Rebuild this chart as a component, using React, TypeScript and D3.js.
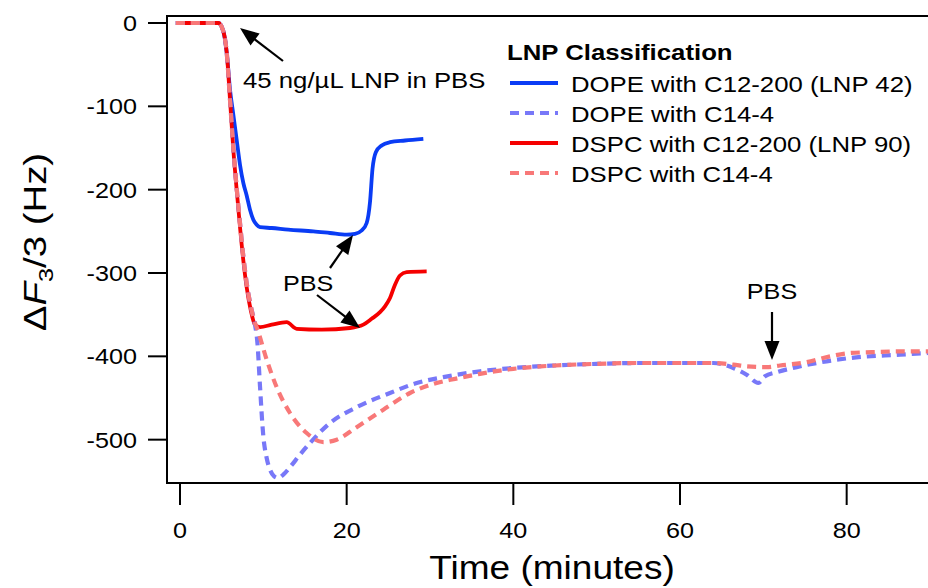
import React from "react";
import * as d3 from "d3";

// ---------- data ----------
const blueSolidT = [-0.5, 4.6, 5.2, 5.6, 6.0, 6.4, 6.8, 7.2, 7.6, 8.0, 8.4, 8.8, 9.2, 9.6, 11, 13, 16, 18, 20, 21, 21.8, 22.4, 22.8, 23.1, 23.5, 24.2, 25.2, 27, 29.2];
const blueSolidV = [0, 0, -10, -35, -80, -110, -140, -170, -192, -207, -224, -236, -242, -245, -246, -248, -250, -252, -254, -253, -249, -240, -215, -175, -155, -147, -143, -141, -139];

const redSolidT = [-0.5, 4.6, 5.2, 5.6, 6.0, 6.4, 6.8, 7.2, 7.6, 8.0, 8.5, 9.0, 9.6, 11, 12.8, 14, 17, 20.4, 22, 23, 24, 24.6, 25.2, 25.8, 26.4, 27.2, 29.6];
const redSolidV = [0, 0, -10, -35, -92, -152, -200, -245, -285, -317, -345, -362, -365, -362, -359, -367, -368, -366, -362, -355, -347, -340, -330, -314, -303, -299, -298];

const blueDashT = [-0.5, 4.6, 5.2, 5.6, 6.0, 6.4, 6.8, 7.2, 7.6, 8.0, 8.5, 9.0, 9.3, 9.6, 10, 10.4, 10.8, 11.3, 11.8, 12.4, 13.2, 14.4, 15.6, 18, 21.2, 25.2, 28.4, 31.6, 36, 40, 45, 50, 55, 60, 64, 66.4, 68, 69.4, 70.2, 71.6, 74, 76.4, 80.4, 86.4, 89.8];
const blueDashV = [0, 0, -10, -35, -92, -150, -198, -240, -280, -312, -340, -362, -385, -436, -496, -522, -536, -544, -546, -542, -533, -518, -504, -480, -461, -444, -432, -425, -418, -414, -411, -409, -408, -408, -408, -414, -422, -432, -424, -419, -413, -408, -402, -398, -396];

const pinkDashT = [-0.5, 4.6, 5.2, 5.6, 6.0, 6.4, 6.8, 7.2, 7.6, 8.0, 8.5, 9.0, 9.2, 10.4, 11.6, 13.2, 15.2, 17.2, 18.8, 21.2, 24.4, 27.6, 30.8, 33, 36, 40, 45, 50, 55, 60, 64, 66.4, 68, 70.4, 72, 75.2, 78, 80.4, 83, 86.4, 89.8];
const pinkDashV = [0, 0, -10, -35, -92, -150, -198, -240, -280, -312, -340, -360, -365, -404, -437, -468, -492, -503, -500, -485, -464, -444, -432, -427, -421, -415, -411, -409, -408, -408, -408, -410, -412, -413, -411, -407, -400, -396, -395, -394, -394];

const xTicks = [0, 20, 40, 60, 80];
const yTicks = [0, -100, -200, -300, -400, -500];

const legendTitle = "LNP Classification";
const seriesNames = [
  "DOPE with C12-200 (LNP 42)",
  "DOPE with C14-4",
  "DSPC with C12-200 (LNP 90)",
  "DSPC with C14-4",
];
const seriesColors = ["#0a3cf5", "#7878f8", "#f50000", "#f87878"];
const seriesDashed = [false, true, false, true];

// annotations in data coordinates [t, v]
const injectText = "45 ng/µL LNP in PBS";
const injectTextPos = [7.56, -78];
const injectArrow = [[12.36, -45.6], [7.2, -6]];
const pbsLeftPos = [12.36, -321.6];
const pbsArrowA = [[18.0, -294], [20.76, -254.4]];
const pbsArrowB = [[16.44, -326.4], [21.6, -366]];
const pbsRightPos = [71.04, -331.2];
const pbsArrowC = [[71.04, -346.8], [71.04, -404.4]];

// ---------- layout ----------
const W = 928;
const H = 588;
const left = 167;
const top = 16;
const bottom = 483;
const FONT = "'Liberation Sans', Arial, Helvetica, sans-serif";
const SX = 1.12;

const x = d3.scaleLinear().domain([-1.56, 90]).range([left, 930]);
const y = d3.scaleLinear().domain([-552, 8.4]).range([bottom, top]);

function ST({ x: tx, y: ty, size, anchor = "start", weight = "normal", sx = SX, children }: any) {
  return (
    <text
      transform={`translate(${tx},${ty}) scale(${sx},1)`}
      fontSize={size}
      textAnchor={anchor}
      fontWeight={weight}
      fontFamily={FONT}
      fill="#000"
    >
      {children}
    </text>
  );
}

function Arrow({ pts }: any) {
  const [[t0, v0], [t1, v1]] = pts;
  const x0 = x(t0), y0 = y(v0), x1 = x(t1), y1 = y(v1);
  const dx = x1 - x0, dy = y1 - y0;
  const len = Math.hypot(dx, dy);
  const ux = dx / len, uy = dy / len;
  const hl = 19, hw = 7.5;
  const bx = x1 - ux * hl, by = y1 - uy * hl;
  const px = -uy, py = ux;
  return (
    <g>
      <line x1={x0} y1={y0} x2={bx + ux * 2} y2={by + uy * 2} stroke="#000" strokeWidth={2.2} />
      <polygon
        points={`${x1},${y1} ${bx + px * hw},${by + py * hw} ${bx - px * hw},${by - py * hw}`}
        fill="#000"
      />
    </g>
  );
}

export default function App() {
  const line = d3
    .line<[number, number]>()
    .x((d) => x(d[0]))
    .y((d) => y(d[1]))
    .curve(d3.curveMonotoneX);

  const series = [
    { t: blueSolidT, v: blueSolidV, i: 0 },
    { t: redSolidT, v: redSolidV, i: 2 },
    { t: blueDashT, v: blueDashV, i: 1 },
    { t: pinkDashT, v: pinkDashV, i: 3 },
  ];

  const legendX0 = 510;
  const legendX1 = 558;
  const legendTextX = 571;
  const legendRowY = [83, 113, 143, 173];

  return (
    <svg
      width={W}
      height={H}
      style={{ position: "absolute", left: 0, top: 0, background: "#fff" }}
    >
      <rect x={0} y={0} width={W} height={H} fill="#fff" />
      <defs>
        <clipPath id="plotclip">
          <rect x={left} y={top} width={W - left} height={bottom - top} />
        </clipPath>
      </defs>

      {/* curves */}
      <g clipPath="url(#plotclip)">
        {series.map((s) => (
          <path
            key={s.i}
            d={line(s.t.map((t, k) => [t, s.v[k]]) as any) || ""}
            fill="none"
            stroke={seriesColors[s.i]}
            strokeWidth={seriesDashed[s.i] ? 4.2 : 3.8}
            strokeDasharray={seriesDashed[s.i] ? "9,6" : undefined}
            strokeLinejoin="round"
          />
        ))}
      </g>

      {/* frame */}
      <line x1={left} y1={top} x2={W + 2} y2={top} stroke="#000" strokeWidth={2} />
      <line x1={left} y1={top - 1} x2={left} y2={bottom + 1} stroke="#000" strokeWidth={2} />
      <line x1={left} y1={bottom} x2={W + 2} y2={bottom} stroke="#000" strokeWidth={2} />

      {/* y ticks */}
      {yTicks.map((v) => (
        <g key={v}>
          <line x1={148} x2={left} y1={y(v)} y2={y(v)} stroke="#000" strokeWidth={2} />
          <ST x={137} y={y(v) + 8} size={22.5} anchor="end">
            {String(v)}
          </ST>
        </g>
      ))}

      {/* x ticks */}
      {xTicks.map((t) => (
        <g key={t}>
          <line x1={x(t)} x2={x(t)} y1={bottom} y2={505} stroke="#000" strokeWidth={2} />
          <ST x={x(t)} y={538} size={22.5} anchor="middle">
            {String(t)}
          </ST>
        </g>
      ))}

      {/* axis titles */}
      <ST x={552} y={579} size={32.5} anchor="middle" sx={1.14}>
        Time (minutes)
      </ST>
      <text
        transform={`translate(46,242) rotate(-90) scale(1.2,1)`}
        fontSize={32}
        textAnchor="middle"
        fontFamily={FONT}
        fill="#000"
      >
        <tspan>Δ</tspan>
        <tspan fontStyle="italic">F</tspan>
        <tspan fontSize={21} dy={7}>3</tspan>
        <tspan dy={-7}>/3 (Hz)</tspan>
      </text>

      {/* legend */}
      <ST x={507} y={60} size={23} weight="bold">
        {legendTitle}
      </ST>
      {seriesNames.map((name, i) => (
        <g key={name}>
          <line
            x1={legendX0}
            x2={legendX1}
            y1={legendRowY[i]}
            y2={legendRowY[i]}
            stroke={seriesColors[i]}
            strokeWidth={4.2}
            strokeDasharray={seriesDashed[i] ? "9,6" : undefined}
          />
          <ST x={legendTextX} y={legendRowY[i] + 9} size={23}>
            {name}
          </ST>
        </g>
      ))}

      {/* annotations */}
      <Arrow pts={injectArrow} />
      <ST x={x(injectTextPos[0])} y={y(injectTextPos[1])} size={23}>
        {injectText}
      </ST>
      <ST x={x(pbsLeftPos[0])} y={y(pbsLeftPos[1])} size={22.5}>
        PBS
      </ST>
      <Arrow pts={pbsArrowA} />
      <Arrow pts={pbsArrowB} />
      <ST x={x(pbsRightPos[0])} y={y(pbsRightPos[1])} size={22.5} anchor="middle">
        PBS
      </ST>
      <Arrow pts={pbsArrowC} />
    </svg>
  );
}
